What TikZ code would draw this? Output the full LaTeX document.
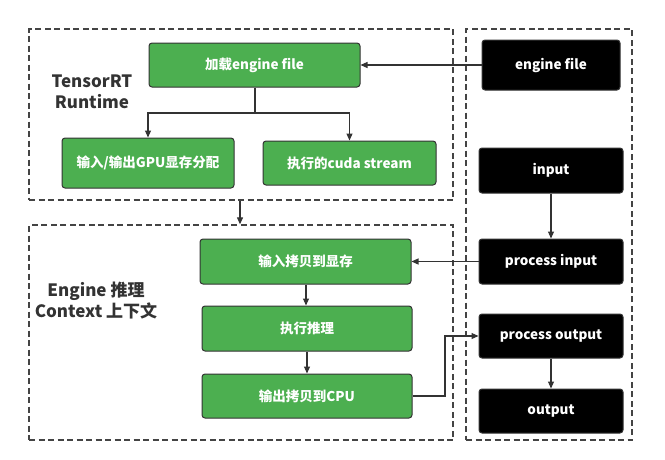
\documentclass[tikz,border=0pt]{standalone}
\usepackage{fontspec}
\setmainfont{Noto Sans CJK SC}
\usetikzlibrary{arrows.meta,calc}
\definecolor{gfill}{HTML}{4CAF50}
\definecolor{dk}{HTML}{333333}
\definecolor{dash}{HTML}{444444}
\begin{document}
\begin{tikzpicture}[x=1pt,y=-1pt,
  gbox/.style={draw=dk,line width=1pt,fill=gfill,rounded corners=3pt,text=white,font=\fontsize{13.5}{16}\selectfont\bfseries,inner sep=0pt},
  bbox/.style={draw=dk,line width=1pt,fill=black,rounded corners=3pt,text=white,font=\fontsize{13.5}{16}\selectfont\bfseries,inner sep=0pt,minimum width=144pt,minimum height=45pt},
  dbox/.style={draw=dash,line width=1.3pt,dash pattern=on 6pt off 3.5pt,inner sep=0pt},
  lbl/.style={text=dk,font=\fontsize{17}{21}\selectfont\bfseries,align=center},
  arr/.style={draw=dk,line width=1.1pt,-{Triangle[length=7pt,width=6pt]}},
  ln/.style={draw=dk,line width=1.1pt}]
\useasboundingbox[fill=white] (0,0) rectangle (665,459);
% dashed boxes
\node[dbox,minimum width=424pt,minimum height=171pt] (rt) at (241,114.5) {};
\node[dbox,minimum width=424pt,minimum height=215pt] (ctx) at (241,332.5) {};
\node[dbox,minimum width=166pt,minimum height=411pt] (io) at (549,234.5) {};
% labels
\node[lbl] (rtl) at (92,92) {TensorRT\\Runtime};
\node[lbl] (ctxl) at (96,301) {Engine 推理\\Context 上下文};
% green boxes
\node[gbox,minimum width=211pt,minimum height=44pt] (load) at (254.5,65) {加载engine file};
\node[gbox,minimum width=172pt,minimum height=50pt] (gpu) at (148,163) {输入/输出GPU显存分配};
\node[gbox,minimum width=173pt,minimum height=44pt] (cuda) at (349.5,163) {执行的cuda stream};
\node[gbox,minimum width=211pt,minimum height=45pt] (cin) at (305.5,261.5) {输入拷贝到显存};
\node[gbox,minimum width=210pt,minimum height=45pt] (infer) at (307,328.5) {执行推理};
\node[gbox,minimum width=210pt,minimum height=44pt] (cout) at (307,396) {输出拷贝到CPU};
% black boxes
\node[bbox,minimum width=138pt,minimum height=50pt] (ef) at (551,65) {engine file};
\node[bbox] (inp) at (551,170.5) {input};
\node[bbox] (pin) at (551,261.5) {process input};
\node[bbox,minimum height=44pt] (pout) at (551,336) {process output};
\node[bbox,minimum height=44pt] (outp) at (551,411) {output};
% connectors
\draw[arr] (ef.west) -- (load.east);
\coordinate (split) at (255,113);
\draw[ln] (load.south -| split) -- (split);
\draw[arr] (split) -| (gpu.north);
\draw[arr] (split) -| (cuda.north);
\draw[arr] (rt.south -| 240,0) -- (ctx.north -| 240,0);
\draw[arr] (inp.south) -- (pin.north);
\draw[arr] (pin.west) -- (cin.east);
\draw[arr] (cin.south -| 306,0) -- (infer.north -| 306,0);
\draw[arr] (infer.south -| 307,0) -- (cout.north -| 307,0);
\coordinate (bend) at (445,396);
\draw[arr] (cout.east) -- (bend) |- (pout.west);
\draw[arr] (pout.south) -- (outp.north);
\end{tikzpicture}
\end{document}
